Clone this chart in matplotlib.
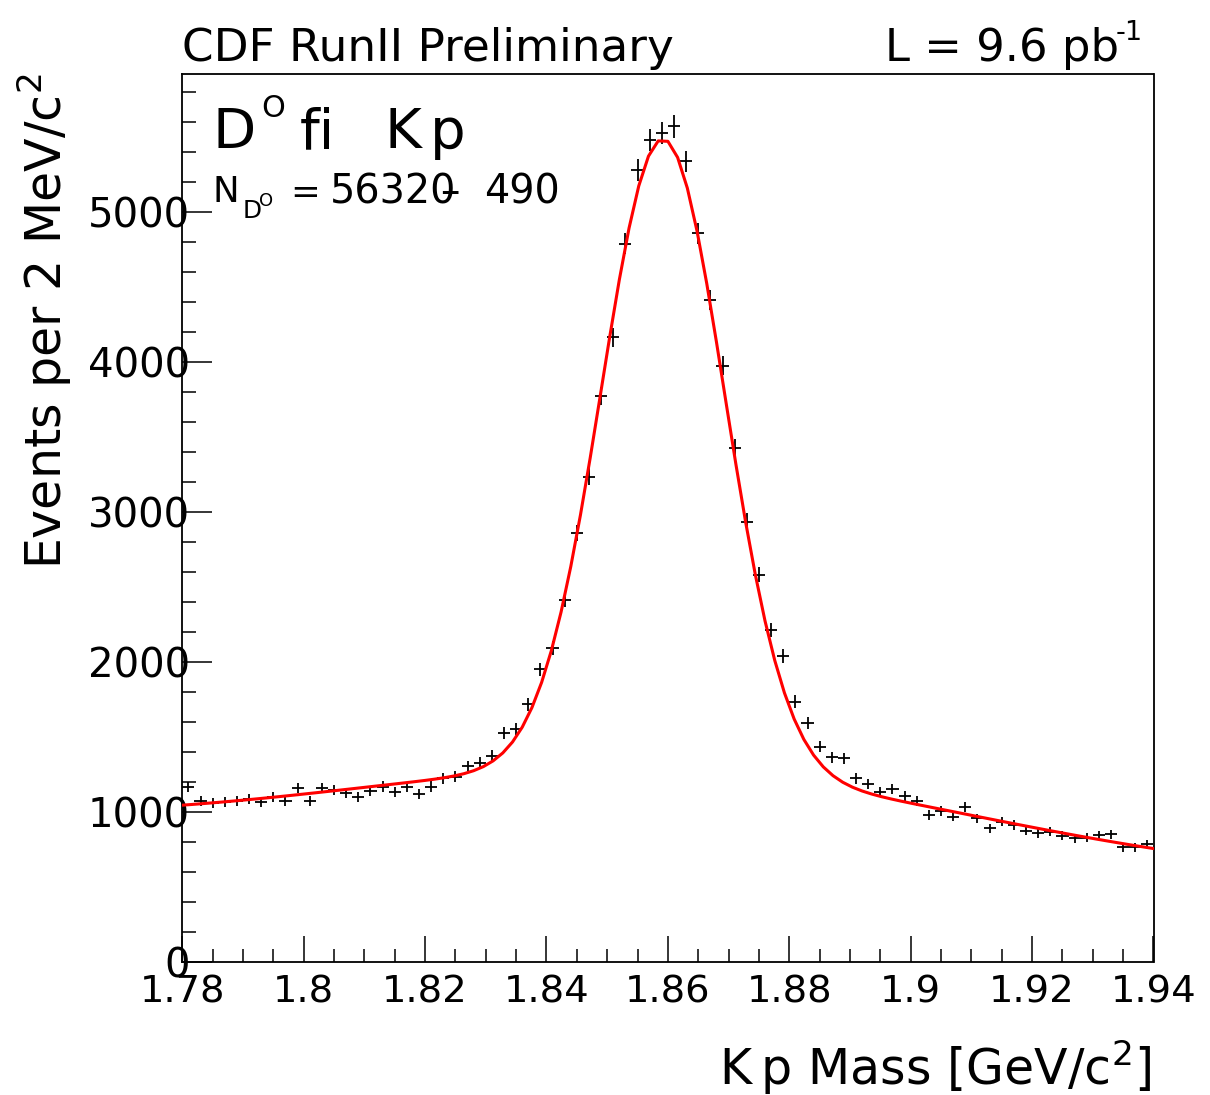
import numpy as np
import matplotlib
matplotlib.use("Agg")
import matplotlib.pyplot as plt
from matplotlib.ticker import MultipleLocator, FixedLocator

plt.rcParams['font.family'] = ['DejaVu Sans']
plt.rcParams['mathtext.fontset'] = 'dejavusans'

# ---- data: D0 -> K pi invariant mass histogram (2 MeV bins, 1.78 - 1.94 GeV) ----
bin_low = 1.78
bin_width = 0.002
counts = [1170, 1075, 1064, 1071, 1077, 1086, 1066, 1104, 1077, 1159,
          1077, 1164, 1148, 1131, 1099, 1144, 1171, 1133, 1166, 1122,
          1171, 1226, 1237, 1308, 1331, 1377, 1526, 1553, 1719, 1953,
          2093, 2415, 2862, 3235, 3775, 4166, 4788, 5282, 5482, 5526,
          5571, 5337, 4859, 4415, 3977, 3426, 2937, 2582, 2215, 2042,
          1737, 1593, 1437, 1366, 1359, 1226, 1188, 1137, 1153, 1108,
          1075, 982, 1008, 971, 1037, 959, 893, 937, 915, 877,
          859, 871, 844, 826, 831, 848, 853, 766, 766, 788]

# ---- fit result (double Gaussian + linear background) ----
fit_mean = 1.8592
fit_narrow_amp = 4208.0
fit_narrow_sigma = 0.0101
fit_wide_amp = 518.0
fit_wide_sigma = 0.050
fit_bkg_const = 760.0
fit_bkg_slope = -1760.0
fit_range = (1.78, 1.94)
fit_npx = 100

x_ticks = [1.78, 1.80, 1.82, 1.84, 1.86, 1.88, 1.90, 1.92, 1.94]
x_tick_labels = ["1.78", "1.8", "1.82", "1.84", "1.86", "1.88", "1.9", "1.92", "1.94"]
y_ticks = [0, 1000, 2000, 3000, 4000, 5000]
y_tick_labels = ["0", "1000", "2000", "3000", "4000", "5000"]

W, H = 1210, 1095
fig = plt.figure(figsize=(W / 100, H / 100), dpi=100)
ax = fig.add_axes([182.3 / W, 1 - 962.3 / H, (1153.5 - 182.3) / W, (962.3 - 74) / H])

counts_arr = np.array(counts, dtype=float)
centers = bin_low + bin_width * (np.arange(len(counts_arr)) + 0.5)
ax.errorbar(centers, counts_arr, xerr=bin_width / 2, yerr=np.sqrt(counts_arr),
            fmt='none', ecolor='black', elinewidth=1.3, capsize=0, zorder=2)


def fit_func(x):
    d = x - fit_mean
    return (fit_bkg_const + fit_bkg_slope * d
            + fit_wide_amp * np.exp(-d ** 2 / (2 * fit_wide_sigma ** 2))
            + fit_narrow_amp * np.exp(-d ** 2 / (2 * fit_narrow_sigma ** 2)))


xf = np.linspace(fit_range[0], fit_range[1], fit_npx + 1)
ax.plot(xf, fit_func(xf), color='#ff0000', lw=2.2, zorder=3)

ax.set_xlim(1.78, 1.94)
ax.set_ylim(0, 5920)

ax.xaxis.set_major_locator(FixedLocator(x_ticks))
ax.set_xticklabels(x_tick_labels)
ax.xaxis.set_minor_locator(MultipleLocator(0.005))
ax.yaxis.set_major_locator(FixedLocator(y_ticks))
ax.set_yticklabels(y_tick_labels)
ax.yaxis.set_minor_locator(MultipleLocator(200))

ax.tick_params(axis='x', which='major', direction='in', length=18.7, width=1.1,
               labelsize=27.7, pad=8.5, top=False)
ax.tick_params(axis='x', which='minor', direction='in', length=9.4, width=1.1, top=False)
ax.tick_params(axis='y', which='major', direction='in', length=21.6, width=1.1,
               labelsize=29.0, pad=-5.5, right=False)
ax.tick_params(axis='y', which='minor', direction='in', length=10.0, width=1.1, right=False)
for sp in ax.spines.values():
    sp.set_linewidth(1.3)


def T(x, y, s, size, **kw):
    kw.setdefault('ha', 'left')
    kw.setdefault('va', 'baseline')
    return fig.text(x / W, 1 - y / H, s, fontsize=size, **kw)


# header
T(182, 61, "CDF RunII Preliminary", 32.6)
T(885, 61, "L = 9.6 pb", 32.3)
T(1116, 40, "-1", 19.5)

# channel label
T(212, 148, "D", 40.5)
T(261, 117, "O", 21.7)
T(300, 148, "fi", 40.5)
T(385, 148, "K", 40.5)
T(430, 148, "p", 40.5)

# yield
T(212, 202, "N", 25.7)
T(243, 218, "D", 17.8)
T(259, 206, "O", 13.0)
T(290, 203, "=", 25.7)
T(330, 203, "56320", 28.6)
T(440, 203, "\u2013", 28.0)
T(484, 203, "490", 28.6)

# axis titles
T(62, 74, "Events per 2 MeV/c$^{2}$", 35.3, rotation=90, rotation_mode='anchor', ha='right')
T(1151, 1085, "K\u2009p Mass [GeV/c$^{2}$]", 35.3, ha='right')

fig.savefig("out.png", dpi=100)
